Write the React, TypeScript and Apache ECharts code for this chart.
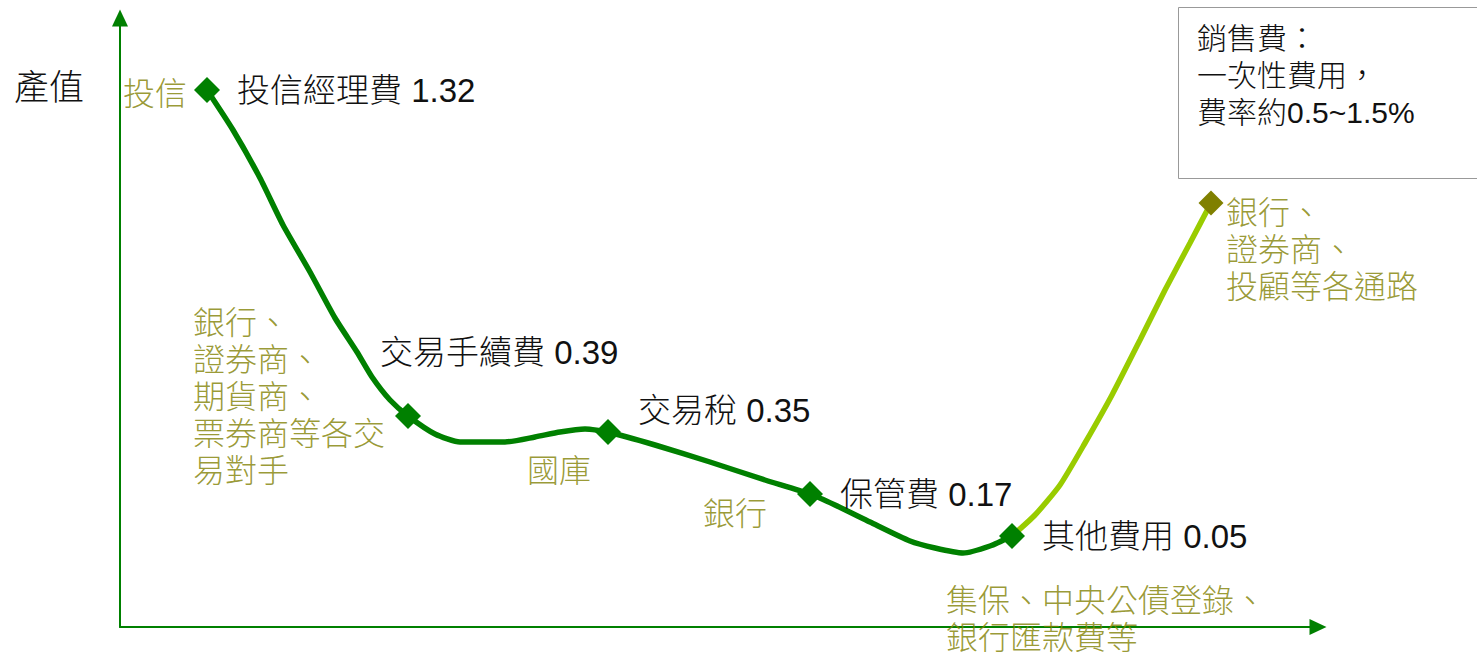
import React, { useEffect, useRef } from "react";
import * as echarts from "echarts";

// Curve path (x: position along value chain, y: relative output value)
const mainCurveX = [87, 113, 140, 163, 190, 215, 237, 252, 270, 288, 315, 340, 385, 415, 440, 465, 488, 535, 590, 645, 690, 715, 750, 790, 815, 843, 870, 892];
const mainCurveY = [537, 497, 449, 402, 355, 309, 275, 250, 227, 211, 193, 185, 185, 190, 195, 198, 195, 182, 165, 147, 133, 122, 105, 86, 79, 74, 81, 91];
const salesCurveX = [892, 915, 940, 965, 992, 1020, 1045, 1070, 1091];
const salesCurveY = [91, 112, 142, 184, 232, 287, 337, 384, 424];

// Fee points
const feeNames = ["投信經理費", "交易手續費", "交易稅", "保管費", "其他費用"];
const feeValues = [1.32, 0.39, 0.35, 0.17, 0.05];
const feeX = [87, 288, 488, 690, 892];
const feeY = [537, 211, 195, 133, 91];
const salesPointX = [1091];
const salesPointY = [424];

// Olive annotations (who collects)
const collectorTexts = [
  "投信",
  "銀行、\n證券商、\n期貨商、\n票券商等各交\n易對手",
  "國庫",
  "銀行",
  "集保、中央公債登錄、\n銀行匯款費等",
  "銀行、\n證券商、\n投顧等各通路",
];
const collectorX = [67, 73, 407, 583, 826, 1106];
const collectorY = [552, 323, 175, 132, 45, 433];
const collectorAlign = ["right", "left", "left", "left", "left", "left"];

const boxText = "銷售費：\n一次性費用，\n費率約0.5~1.5%";

const FONT = "'Liberation Sans', 'Noto Sans CJK TC', sans-serif";
const OLIVE = "#808000";
const GREEN = "#008000";

export default function App() {
  const ref = useRef<HTMLDivElement>(null);
  useEffect(() => {
    const chart = echarts.init(ref.current!, null, { renderer: "svg" });
    const feeData = feeX.map((x, i) => {
      const item: any = { value: [x, feeY[i]], name: feeNames[i] };
      if (i === 1) item.label = { position: "right", offset: [-58, -64] };
      if (i === 2) item.label = { position: "right", offset: [0, -22] };
      return item;
    });
    const annotationData = collectorX.map((x, i) => ({
      value: [x, collectorY[i]],
      label: {
        formatter: collectorTexts[i],
        align: collectorAlign[i],
        verticalAlign: "top",
        position: "inside",
      },
    }));
    const axisCommon = {
      axisLine: {
        show: true,
        lineStyle: { color: GREEN, width: 2 },
        symbol: ["none", "triangle"],
        symbolSize: [16, 17],
      },
      axisTick: { show: false },
      axisLabel: { show: false },
      splitLine: { show: false },
    };
    chart.setOption({
      animation: false,
      grid: { left: 120, right: 159, top: 18, bottom: 25 },
      xAxis: { type: "value", min: 0, max: 1198, ...axisCommon },
      yAxis: { type: "value", min: 0, max: 609, ...axisCommon },
      graphic: [
        {
          type: "text",
          left: 14,
          top: 70,
          style: { text: "產值", font: `300 35px ${FONT}`, fill: "#111" },
        },
        {
          type: "rect",
          shape: { x: 1178.5, y: 7.5, width: 310, height: 171 },
          style: { fill: "#fff", stroke: "#999", lineWidth: 1 },
        },
        {
          type: "text",
          x: 1197,
          y: 20,
          style: { text: boxText, font: `300 30px ${FONT}`, fill: "#111", lineHeight: 37 },
        },
      ],
      series: [
        {
          type: "line",
          data: mainCurveX.map((x, i) => [x, mainCurveY[i]]),
          showSymbol: false,
          symbol: "none",
          smooth: 0.2,
          lineStyle: { color: GREEN, width: 5.5 },
          z: 2,
        },
        {
          type: "line",
          data: salesCurveX.map((x, i) => [x, salesCurveY[i]]),
          showSymbol: false,
          symbol: "none",
          smooth: 0.2,
          lineStyle: { color: "#99cc00", width: 5.5 },
          z: 2,
        },
        {
          type: "scatter",
          data: feeData,
          symbol: "diamond",
          symbolSize: 26,
          itemStyle: { color: GREEN, opacity: 1 },
          label: {
            show: true,
            position: "right",
            distance: 17,
            formatter: (p: any) => `${p.name} ${feeValues[p.dataIndex].toFixed(2)}`,
            color: "#111",
            fontSize: 33,
            fontFamily: FONT,
            fontWeight: 300,
          },
          z: 5,
        },
        {
          type: "scatter",
          data: salesPointX.map((x, i) => [x, salesPointY[i]]),
          symbol: "diamond",
          symbolSize: 25,
          itemStyle: { color: OLIVE, opacity: 1 },
          z: 5,
        },
        {
          type: "scatter",
          data: annotationData,
          symbolSize: 0,
          label: {
            show: true,
            color: OLIVE,
            fontSize: 32,
            lineHeight: 37,
            fontFamily: FONT,
            fontWeight: 300,
          },
          z: 4,
        },
      ],
    });
    return () => chart.dispose();
  }, []);
  return (
    <div
      ref={ref}
      style={{ position: "fixed", left: 0, top: 0, width: 1477, height: 652, background: "#fff" }}
    />
  );
}
